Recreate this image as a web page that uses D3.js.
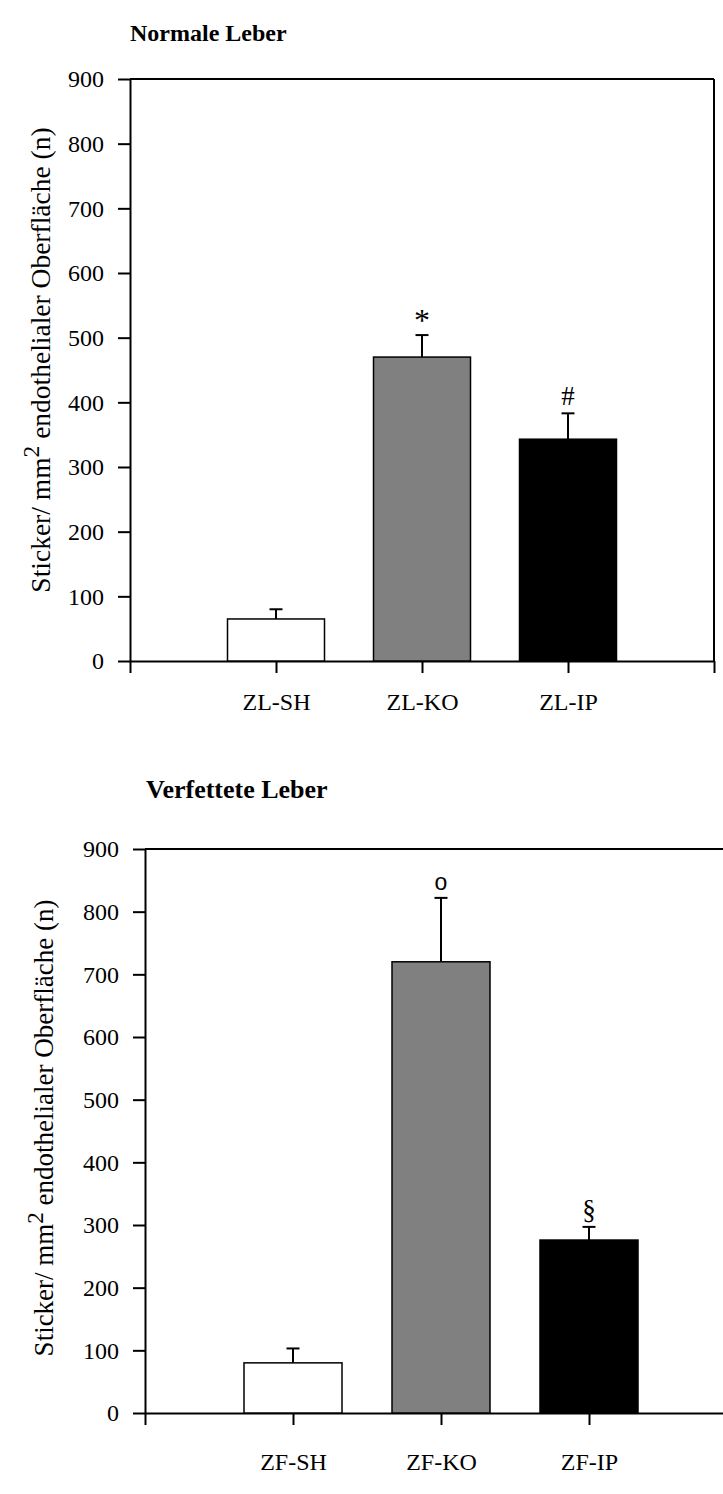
<!DOCTYPE html>
<html>
<head>
<meta charset="utf-8">
<script src="https://cdn.jsdelivr.net/npm/d3@7"></script>
<style>
  body { margin: 0; background: #fff; }
  svg { display: block; }
</style>
</head>
<body>
<svg id="chart" width="723" height="1494"></svg>
<script>
// values (mean and upper error, n per mm2)
const topTitle = "Normale Leber";
const topCategories = ["ZL-SH", "ZL-KO", "ZL-IP"];
const topMeans = [65, 470, 343];
const topErrors = [15, 34, 40];
const topMarks = ["", "*", "#"];

const bottomTitle = "Verfettete Leber";
const bottomCategories = ["ZF-SH", "ZF-KO", "ZF-IP"];
const bottomMeans = [80, 720, 276];
const bottomErrors = [23, 102, 21];
const bottomMarks = ["", "o", "§"];

const barColors = ["#ffffff", "#808080", "#000000"];
const yTicks = [0, 100, 200, 300, 400, 500, 600, 700, 800, 900];

const serif = "'Liberation Serif', 'Times New Roman', serif";
const svg = d3.select("#chart");

function panel(p) {
    const g = svg.append("g");
    const x = d3.scaleLinear().domain([0, 4]).range([p.left, p.right]);
    const y = d3.scaleLinear().domain([0, 900]).range([p.bottom, p.top]);

    // title
    g.append("text")
        .attr("x", p.titleX)
        .attr("y", p.titleY)
        .style("font-family", serif)
        .style("font-weight", "bold")
        .style("font-size", p.titleSize + "px")
        .text(p.title);

    // y axis
    const yAxis = g.append("g")
        .attr("transform", "translate(" + p.left + ",0)")
        .call(d3.axisLeft(y).tickValues(yTicks).tickSize(12).tickSizeOuter(0).tickPadding(14));

    // x axis with category names
    const xAxis = g.append("g")
        .attr("transform", "translate(0," + p.bottom + ")")
        .call(d3.axisBottom(x).tickValues([0, 1, 2, 3, 4]).tickSize(12).tickSizeOuter(0)
            .tickPadding(p.xPad)
            .tickFormat((d) => (d >= 1 && d <= 3) ? p.categories[d - 1] : ""));

    [yAxis, xAxis].forEach(function (a) {
        a.selectAll("path, line").attr("stroke", "#000").attr("stroke-width", 2);
        a.selectAll("text")
            .attr("fill", "#000")
            .style("font-family", serif)
            .style("font-size", p.tickSize + "px");
    });

    // frame: top and right
    g.append("line")
        .attr("x1", x(0)).attr("x2", x(4))
        .attr("y1", y(900)).attr("y2", y(900))
        .attr("stroke", "#000").attr("stroke-width", 2);
    g.append("line")
        .attr("x1", x(4)).attr("x2", x(4))
        .attr("y1", y(900)).attr("y2", y(0))
        .attr("stroke", "#000").attr("stroke-width", 2);

    const idx = d3.range(p.means.length);

    // error bars (behind bars)
    g.selectAll(".err")
        .data(idx)
        .enter().append("line")
            .attr("x1", (i) => x(i + 1)).attr("x2", (i) => x(i + 1))
            .attr("y1", (i) => y(p.means[i]))
            .attr("y2", (i) => y(p.means[i] + p.errors[i]))
            .attr("stroke", "#000").attr("stroke-width", 2);
    g.selectAll(".cap")
        .data(idx)
        .enter().append("line")
            .attr("x1", (i) => x(i + 1) - 6.5).attr("x2", (i) => x(i + 1) + 6.5)
            .attr("y1", (i) => y(p.means[i] + p.errors[i]))
            .attr("y2", (i) => y(p.means[i] + p.errors[i]))
            .attr("stroke", "#000").attr("stroke-width", 2);

    // bars
    g.selectAll(".bar")
        .data(idx)
        .enter().append("rect")
            .attr("x", (i) => x(i + 1) - p.barWidth / 2)
            .attr("width", p.barWidth)
            .attr("y", (i) => y(p.means[i]))
            .attr("height", (i) => y(0) - y(p.means[i]))
            .attr("fill", (i) => barColors[i])
            .attr("stroke", "#000")
            .attr("stroke-width", 1.5);

    // significance marks
    g.selectAll(".mark")
        .data(idx)
        .enter().append("text")
            .attr("x", (i) => x(i + 1))
            .attr("y", (i) => y(p.means[i] + p.errors[i]) - (p.marks[i] === "*" ? 4 : 8))
            .attr("text-anchor", "middle")
            .style("font-family", (i) => p.marks[i] === "o" ? "'Liberation Sans', Arial, sans-serif" : serif)
            .style("font-size", (i) => p.marks[i] === "o" ? "23px" : (p.marks[i] === "*" ? "32px" : "27px"))
            .text((i) => p.marks[i]);

    // y axis title
    const lab = g.append("text")
        .attr("transform", "translate(" + p.labelX + "," + p.labelY + ") rotate(-90)")
        .attr("text-anchor", "middle")
        .style("font-family", serif)
        .style("font-size", p.labelSize + "px");
    lab.append("tspan").text("Sticker/ mm");
    lab.append("tspan").attr("dy", "-0.45em").style("font-size", "0.85em").text("2");
    lab.append("tspan").attr("dy", "0.38em").text(" endothelialer Oberfläche (n)");
}

panel({
    title: topTitle, titleX: 130, titleY: 41, titleSize: 24,
    categories: topCategories, means: topMeans, errors: topErrors, marks: topMarks,
    left: 130, right: 714, top: 79, bottom: 661,
    barWidth: 97, tickSize: 24, xPad: 20,
    labelX: 50, labelY: 360, labelSize: 27.5
});

panel({
    title: bottomTitle, titleX: 146, titleY: 798, titleSize: 26,
    categories: bottomCategories, means: bottomMeans, errors: bottomErrors, marks: bottomMarks,
    left: 145, right: 737, top: 849, bottom: 1413,
    barWidth: 98, tickSize: 24, xPad: 28,
    labelX: 53, labelY: 1128, labelSize: 27
});
</script>
</body>
</html>
